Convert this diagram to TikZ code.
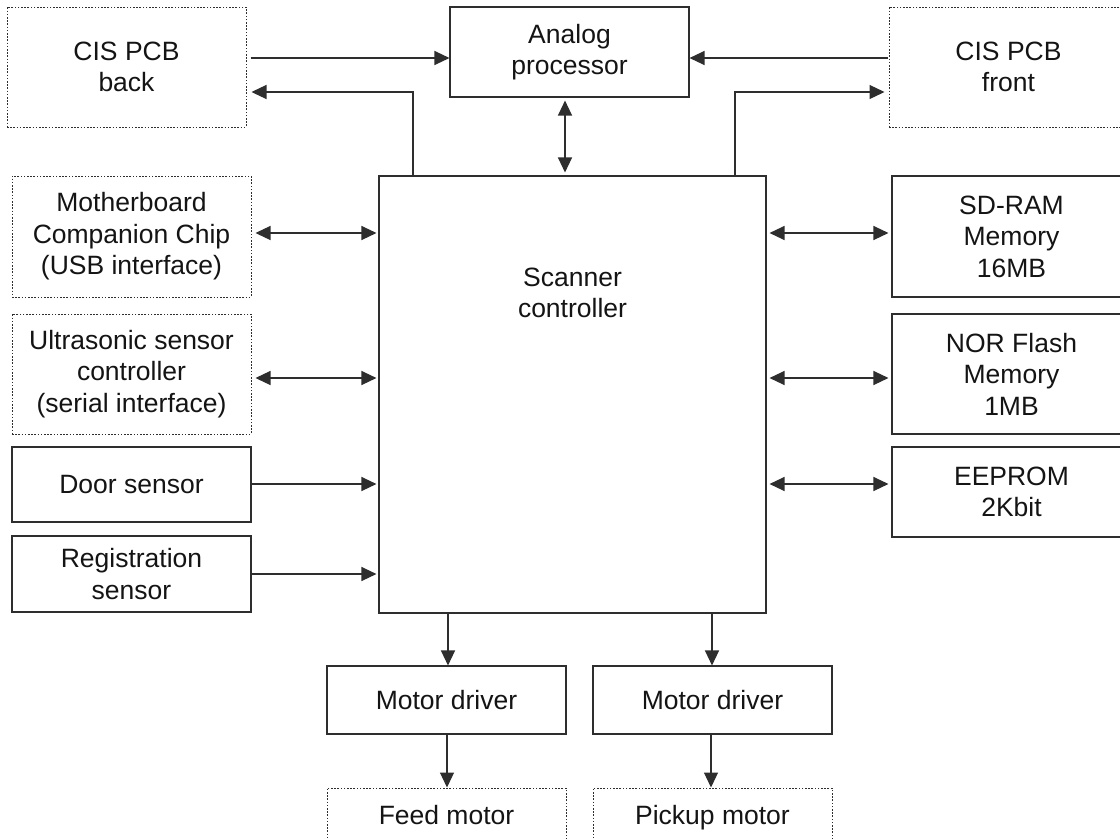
\documentclass[tikz,border=0pt]{standalone}
\usepackage{fontspec}
\setmainfont{Liberation Sans}
\usetikzlibrary{arrows.meta}
\definecolor{linec}{HTML}{2E2E2E}
\definecolor{txt}{HTML}{141414}
\begin{document}
\begin{tikzpicture}[x=1pt,y=-1pt,
  lbl/.style={align=center, inner sep=0pt, font=\fontsize{26.5}{31.5}\selectfont, text=txt},
  box/.style={lbl, draw=linec, line width=1.1pt, minimum width=239pt},
  dbox/.style={box, line width=1pt, dash pattern=on 1.6pt off 1.6pt},
  arr/.style={draw=linec, line width=1.2pt, -{Triangle[length=15pt,width=14pt]}},
  barr/.style={draw=linec, line width=1.2pt, {Triangle[length=15pt,width=14pt]}-{Triangle[length=15pt,width=14pt]}}]
\useasboundingbox[fill=white] (0,0) rectangle (1120,839);
\clip (0,0) rectangle (1120,839);
% top row
\node[dbox, minimum height=120pt] (back) at (126.5,67) {CIS PCB\\back};
\node[box, minimum height=90pt] (analog) at (569.5,52) {Analog\\processor};
\node[dbox, minimum height=120pt] (front) at (1008.5,67) {CIS PCB\\front};
% scanner controller
\node[box, minimum width=387pt, minimum height=437pt] (scan) at (572.5,394.5) {};
\node[lbl] (scantext) at (572.5,293) {Scanner\\controller};
% left column
\node[dbox, minimum height=121pt] (mb) at (131.5,236.5) {Motherboard\\Companion Chip\\(USB interface)};
\node[dbox, minimum height=120pt] (us) at (131.5,374) {Ultrasonic sensor\\controller\\(serial interface)};
\node[box, minimum height=75pt] (door) at (131.5,484.5) {Door sensor};
\node[box, minimum height=76pt] (reg) at (131.5,574) {Registration\\sensor};
% right column
\node[box, minimum height=121pt] (sdram) at (1011.5,236.5) {SD-RAM\\Memory\\16MB};
\node[box, minimum height=120pt] (nor) at (1011.5,374) {NOR Flash\\Memory\\1MB};
\node[box, minimum height=90pt] (eeprom) at (1011.5,492) {EEPROM\\2Kbit};
% bottom
\node[box, minimum height=68pt] (md1) at (446.5,700) {Motor driver};
\node[box, minimum height=68pt] (md2) at (712.5,700) {Motor driver};
\node[dbox, minimum height=62pt, text depth=8pt] (feed) at (446.5,819) {Feed motor};
\node[dbox, minimum height=62pt, text depth=8pt] (pickup) at (712.5,819) {Pickup motor};
% connectors, top
\draw[arr, shorten <=4pt] (back.east |- 0,58) -- (analog.west |- 0,58);
\draw[arr, shorten >=5pt] (scan.north -| 413,0) |- (back.east |- 0,92);
\draw[arr, shorten <=1pt] (front.west |- 0,58) -- (analog.east |- 0,58);
\draw[arr, shorten >=4pt] (scan.north -| 735,0) |- (front.west |- 0,92);
\draw[barr, shorten <=3pt, shorten >=3pt] (analog.south -| 565,0) -- (scan.north -| 565,0);
% left
\draw[barr, shorten <=4pt, shorten >=2pt] (mb.east |- 0,233) -- (scan.west |- 0,233);
\draw[barr, shorten <=4pt, shorten >=2pt] (us.east |- 0,378) -- (scan.west |- 0,378);
\draw[arr, shorten >=2pt] (door.east |- 0,484) -- (scan.west |- 0,484);
\draw[arr, shorten >=2pt] (reg.east |- 0,574) -- (scan.west |- 0,574);
% right
\draw[barr, shorten <=3pt, shorten >=3pt] (scan.east |- 0,233) -- (sdram.west |- 0,233);
\draw[barr, shorten <=3pt, shorten >=3pt] (scan.east |- 0,378) -- (nor.west |- 0,378);
\draw[barr, shorten <=3pt, shorten >=3pt] (scan.east |- 0,484) -- (eeprom.west |- 0,484);
% down
\draw[arr] (scan.south -| 448,0) -- (md1.north -| 448,0);
\draw[arr] (scan.south -| 712,0) -- (md2.north -| 712,0);
\draw[arr] (md1.south -| 447,0) -- (feed.north -| 447,0);
\draw[arr] (md2.south -| 711,0) -- (pickup.north -| 711,0);
\end{tikzpicture}
\end{document}
